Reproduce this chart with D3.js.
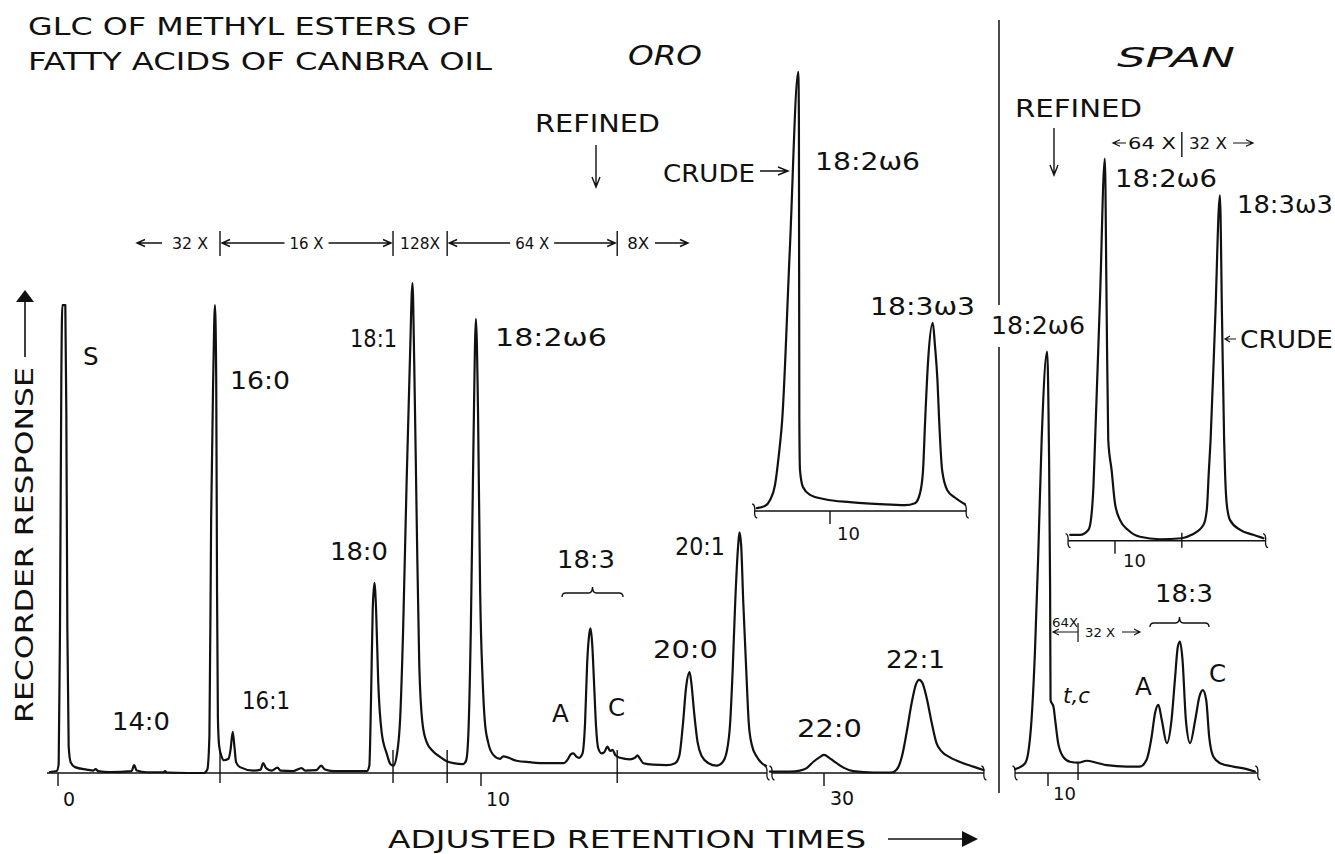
<!DOCTYPE html>
<html>
<head>
<meta charset="utf-8">
<title>GLC of methyl esters of fatty acids of Canbra oil</title>
<script src="https://cdn.jsdelivr.net/npm/d3@7"></script>
<style>
  html, body { margin: 0; padding: 0; background: #fff; }
  svg { display: block; }
  text { font-family: "DejaVu Sans", "Liberation Sans", sans-serif; fill: #111; }
</style>
</head>
<body>
<svg id="chart" width="1335" height="854"></svg>
<script>
// ---------------------------------------------------------------
// Chromatogram traces: [adjusted retention time (min), response (% of full scale)]
// ---------------------------------------------------------------

// ORO refined oil, main run (S through 20:1)
const mainTrace = [
  [-0.19,0.2],[-0.03,0.4],[0.016,1.8],[0.047,29.6],[0.079,80.8],[0.102,95.5],[0.173,95.5],[0.197,73.5],
  [0.221,29.6],[0.252,5.5],[0.299,2.2],[0.402,1.2],[0.678,0.7],[0.835,0.5],[0.89,0.8],[0.946,0.4],
  [1.23,0.2],[1.74,0.4],[1.80,1.6],[1.86,0.5],[2.10,0.15],[2.49,0.15],[2.53,0.4],[2.57,0.1],
  [3.04,0],[3.45,0],[3.53,0.7],[3.58,7.7],[3.62,51.6],[3.67,80.8],[3.71,95.5],[3.74,80.8],
  [3.76,36.9],[3.78,11.3],[3.81,5.5],[3.87,3.3],[3.92,2.6],[4.03,2.9],[4.08,4.8],[4.13,8.4],
  [4.17,5.5],[4.21,2.2],[4.30,1.2],[4.62,0.5],[4.79,0.7],[4.85,2.0],[4.92,1.0],[5.05,0.5],
  [5.19,1.1],[5.26,0.5],[5.56,0.4],[5.76,1.0],[5.84,0.5],[6.11,0.6],[6.22,1.5],[6.31,0.7],
  [6.51,0.4],[7.30,0.4],[7.36,1.5],[7.40,15.0],[7.44,33.3],[7.48,38.8],[7.52,33.3],[7.57,18.7],
  [7.65,8.4],[7.77,4.0],[7.86,1.8],[7.93,1.5],[8.01,3.7],[8.09,11.3],[8.16,29.6],[8.24,58.9],
  [8.32,84.5],[8.38,100],[8.42,84.5],[8.48,51.6],[8.54,22.3],[8.62,9.9],[8.72,6.2],[8.87,4.4],
  [9.03,3.3],[9.19,2.4],[9.35,2.0],[9.58,1.8],[9.65,2.6],[9.70,7.7],[9.76,29.6],[9.82,66.2],
  [9.88,92.7],[9.93,73.5],[9.98,36.9],[10.04,18.7],[10.09,10.6],[10.17,6.2],[10.29,3.7],[10.45,2.9],
  [10.53,3.4],[10.84,2.5],[11.16,2.2],[11.55,2.0],[11.95,2.0],[12.06,2.9],[12.12,3.8],[12.18,4.0],
  [12.26,3.3],[12.32,3.1],[12.40,4.0],[12.46,10.2],[12.51,22.5],[12.56,28.4],[12.59,29.5],[12.63,26.2],
  [12.67,18.9],[12.72,9.5],[12.77,5.1],[12.85,4.0],[12.91,4.2],[12.99,5.4],[13.05,4.5],[13.11,4.7],
  [13.18,3.6],[13.29,3.1],[13.52,2.8],[13.64,3.1],[13.70,3.6],[13.76,2.9],[13.84,2.0],[14.07,1.7],
  [14.39,1.6],[14.59,2.0],[14.69,3.6],[14.77,9.6],[14.85,17.6],[14.93,20.6],[14.97,18.6],[15.04,12.2],
  [15.12,6.3],[15.22,3.4],[15.38,2.0],[15.57,1.5],[15.71,2.2],[15.81,4.4],[15.89,10.2],[15.95,21.1],
  [16.01,34.9],[16.08,46.5],[16.11,49.1],[16.15,46.5],[16.20,34.9],[16.27,21.1],[16.33,10.2],[16.40,5.8],
  [16.52,3.3],[16.64,2.0],[16.74,1.5]
];

// ORO refined oil, late eluting part (22:0, 22:1)
const lateTrace = [
  [28.72,0.3],[29.20,0.3],[29.43,0.5],[29.59,1.0],[29.75,2.3],[29.91,3.3],[30.00,3.7],[30.14,3.0],
  [30.30,2.0],[30.46,1.1],[30.69,0.4],[31.17,0.1],[31.60,0.1],[31.72,0.7],[31.84,3.3],[31.95,8.1],
  [32.07,14.2],[32.17,18.0],[32.25,19.0],[32.33,18.3],[32.43,15.2],[32.55,10.1],[32.66,6.1],[32.78,4.4],
  [32.98,3.2],[33.29,2.0],[33.53,1.3],[33.77,0.6]
];

// ORO crude oil, 18:2w6 and 18:3w3 region
const oroCrudeTrace = [
  [8.27,0.6],[8.46,1.0],[8.58,2.2],[8.70,5.3],[8.79,11.4],[8.87,18.6],[9.05,53.3],[9.25,89.6],
  [9.265,80],[9.275,18.6],[9.29,8.4],[9.36,4.9],[9.53,3.3],[9.88,2.4],[10.47,1.8],[11.18,1.4],
  [11.77,1.2],[12.01,1.6],[12.13,3.7],[12.20,8.4],[12.25,18.6],[12.32,30.8],[12.43,38.4],[12.48,33.9],
  [12.54,26.7],[12.58,18.6],[12.65,8.4],[12.77,4.3],[12.96,2.7],[13.19,1.4]
];

// SPAN refined oil, 18:2w6 and 18:3 isomers
const spanRefinedTrace = [
  [9.22,0.8],[9.34,1.2],[9.46,2.0],[9.53,4.0],[9.61,10.8],[9.69,24.4],[9.77,44.8],[9.85,68.0],
  [9.98,86.0],[10.02,68.0],[10.05,37.3],[10.06,14.9],[10.13,13.5],[10.17,10.8],[10.24,6.1],[10.36,3.3],
  [10.52,2.3],[10.72,2.1],[10.91,2.5],[11.15,2.1],[11.39,1.6],[11.86,1.3],[12.17,1.3],[12.33,2.7],
  [12.45,7.4],[12.53,12.2],[12.61,13.9],[12.69,10.8],[12.81,6.1],[12.92,10.8],[13.00,19.0],[13.07,25.8],
  [13.12,26.8],[13.18,23.1],[13.26,10.8],[13.36,6.1],[13.48,10.8],[13.58,15.6],[13.66,16.9],[13.74,14.9],
  [13.81,7.4],[13.91,3.3],[14.07,2.0],[14.38,1.3],[14.70,0.8],[14.89,0.3]
];

// SPAN crude oil, 18:2w6 and 18:3w3
const spanCrudeTrace = [
  [8.94,1.2],[9.17,1.2],[9.37,2.2],[9.43,4.2],[9.49,11.0],[9.53,20.6],[9.645,49.3],[9.76,78.0],
  [9.80,49.3],[9.84,20.6],[9.92,14.4],[10.00,7.6],[10.12,4.2],[10.31,2.2],[10.59,0.8],[11.06,0.3],
  [11.58,0.5],[11.81,1.2],[12.09,3.2],[12.17,6.3],[12.22,14.4],[12.26,20.6],[12.37,45.5],[12.48,70.5],
  [12.53,45.5],[12.58,20.6],[12.60,14.4],[12.64,7.6],[12.72,4.2],[12.96,2.2],[13.27,1.2],[13.51,0.5]
];

// Axis spans (min) and tick values
const mainAxisSpan = [-0.26, 16.76];
const lateAxisSpan = [28.77, 33.78];
const oroAxisSpan = [8.22, 13.22];
const spanAxisSpan = [9.22, 14.96];
const spanCrudeAxisSpan = [8.89, 13.56];
const mainTicks = [0, 10];
const lateTicks = [30];
const oroTicks = [10];
const spanTicks = [10];
const spanCrudeTicks = [10];

// Recorder attenuation settings and the times where they were switched
const attenuations = ["32 X", "16 X", "128X", "64 X", "8X"];
const attenuationChanges = [3.83, 7.92, 9.20, 13.22];
const spanAttenuations = ["64X", "32 X"];
const spanAttenuationChanges = [10.71];
const spanCrudeAttenuations = ["64 X", "32 X"];
const spanCrudeAttenuationChanges = [11.58];

// ---------------------------------------------------------------
const svg = d3.select("#chart");
const ink = "#111";

// Chart paper: 42.3 px per minute, full scale = 490 px
const xMain = d3.scaleLinear().domain([0, 10]).range([58, 481]);
const xLate = d3.scaleLinear().domain([30, 35]).range([824, 1035.5]);
const yMain = d3.scaleLinear().domain([0, 100]).range([773, 283]);
const xOro = d3.scaleLinear().domain([10, 15]).range([830, 1041.5]);
const yOro = d3.scaleLinear().domain([0, 100]).range([511, 21]);
const xSpan = d3.scaleLinear().domain([10, 15]).range([1048, 1259.5]);
const xSpanC = d3.scaleLinear().domain([10, 15]).range([1115, 1326.5]);
const ySpanC = d3.scaleLinear().domain([0, 100]).range([540.7, 50.7]);

const g = svg.append("g");

function drawTrace(data, xs, ys) {
  const line = d3.line().x(d => xs(d[0])).y(d => ys(d[1])).curve(d3.curveMonotoneX);
  g.append("path").attr("d", line(data))
    .attr("fill", "none").attr("stroke", ink).attr("stroke-width", 2.2)
    .attr("stroke-linejoin", "round").attr("stroke-linecap", "round");
}

function squiggle(x, y) {
  return `M${x - 2.5},${y - 7}C${x + 3.5},${y - 6} ${x - 3.5},${y + 6} ${x + 2.5},${y + 7}`;
}

function drawAxis(span, xs, y0, ticks, changes, opts, endMarks) {
  const ax = g.append("g");
  ax.append("line").attr("x1", xs(span[0])).attr("x2", xs(span[1]))
    .attr("y1", y0).attr("y2", y0).attr("stroke", ink).attr("stroke-width", 1.4);
  if (endMarks[0]) ax.append("path").attr("d", squiggle(xs(span[0]), y0))
    .attr("fill", "none").attr("stroke", ink).attr("stroke-width", 1.3);
  if (endMarks[1]) ax.append("path").attr("d", squiggle(xs(span[1]), y0))
    .attr("fill", "none").attr("stroke", ink).attr("stroke-width", 1.3);
  ax.selectAll("line.minute").data(ticks).join("line").attr("class", "minute")
    .attr("x1", d => xs(d)).attr("x2", d => xs(d)).attr("y1", y0).attr("y2", y0 + 13)
    .attr("stroke", ink).attr("stroke-width", 1.4);
  ax.selectAll("text.minute").data(ticks).join("text").attr("class", "minute")
    .attr("x", d => xs(d) + opts.dx).attr("y", y0 + opts.dy)
    .attr("font-size", opts.size).text(d => d3.format("d")(d));
  ax.selectAll("line.change").data(changes).join("line").attr("class", "change")
    .attr("x1", d => xs(d)).attr("x2", d => xs(d))
    .attr("y1", y0 - opts.up).attr("y2", y0 + opts.down)
    .attr("stroke", ink).attr("stroke-width", 1.4);
}

// ---- traces ----
drawTrace(mainTrace, xMain, yMain);
drawTrace(lateTrace, xLate, yMain);
drawTrace(oroCrudeTrace, xOro, yOro);
drawTrace(spanRefinedTrace, xSpan, yMain);
drawTrace(spanCrudeTrace, xSpanC, ySpanC);

// ---- axes ----
drawAxis(mainAxisSpan, xMain, yMain(0), mainTicks, attenuationChanges,
  {dx: 5, dy: 33, size: 19, up: 23, down: 10}, [false, true]);
drawAxis(lateAxisSpan, xLate, yMain(0), lateTicks, [],
  {dx: 6, dy: 32, size: 19, up: 0, down: 0}, [true, true]);
drawAxis(oroAxisSpan, xOro, yOro(0), oroTicks, [],
  {dx: 7, dy: 29, size: 18, up: 0, down: 0}, [true, true]);
drawAxis(spanAxisSpan, xSpan, yMain(0), spanTicks, spanAttenuationChanges,
  {dx: 5, dy: 27, size: 18, up: 10, down: 7}, [true, true]);
drawAxis(spanCrudeAxisSpan, xSpanC, ySpanC(0), spanCrudeTicks, spanCrudeAttenuationChanges,
  {dx: 8, dy: 26, size: 18, up: 8, down: 7}, [true, true]);

// ---- helpers for annotation ----
function arrowPath(x1, y1, x2, y2, len = 8, half = 3.5) {
  const a = Math.atan2(y2 - y1, x2 - x1);
  const bx = x2 - len * Math.cos(a), by = y2 - len * Math.sin(a);
  const px = -Math.sin(a) * half, py = Math.cos(a) * half;
  return `M${x1},${y1}L${x2},${y2}M${bx + px},${by + py}L${x2},${y2}L${bx - px},${by - py}`;
}
function arrow(x1, y1, x2, y2, len, half, w = 1.4) {
  g.append("path").attr("d", arrowPath(x1, y1, x2, y2, len, half))
    .attr("fill", "none").attr("stroke", ink).attr("stroke-width", w);
}
function label(txt, x, y, opts = {}) {
  const t = g.append("text").attr("x", x).attr("y", y)
    .attr("font-size", opts.size || 24.5).text(txt);
  if (opts.len) t.attr("textLength", opts.len).attr("lengthAdjust", "spacingAndGlyphs");
  if (opts.italic) t.attr("font-style", "italic");
  if (opts.anchor) t.attr("text-anchor", opts.anchor);
  return t;
}
function brace(x0, x1, yTop, depth = 9) {
  const xm = (x0 + x1) / 2, r = 4;
  const yLine = yTop + depth - 4;
  const d = `M${x0},${yTop + depth}Q${x0},${yLine} ${x0 + r},${yLine}L${xm - r},${yLine}` +
            `Q${xm},${yLine} ${xm},${yTop}Q${xm},${yLine} ${xm + r},${yLine}` +
            `L${x1 - r},${yLine}Q${x1},${yLine} ${x1},${yTop + depth}`;
  g.append("path").attr("d", d).attr("fill", "none").attr("stroke", ink).attr("stroke-width", 1.4);
}

// ---- title and panel names ----
label("GLC OF METHYL ESTERS OF", 28, 35, {len: 442});
label("FATTY ACIDS OF CANBRA OIL", 28, 70, {len: 464});
label("ORO", 628, 65, {italic: true, len: 74, size: 26});
label("SPAN", 1117, 67, {italic: true, len: 118, size: 26});

// panel divider, interrupted behind the SPAN 18:2w6 label
g.append("line").attr("x1", 999).attr("x2", 999).attr("y1", 20).attr("y2", 305)
  .attr("stroke", ink).attr("stroke-width", 1.5);
g.append("line").attr("x1", 999).attr("x2", 999).attr("y1", 347).attr("y2", 793)
  .attr("stroke", ink).attr("stroke-width", 1.5);

// ---- axis titles ----
g.append("text").attr("transform", "translate(33,723) rotate(-90)")
  .attr("font-size", 24.5).attr("textLength", 356).attr("lengthAdjust", "spacingAndGlyphs")
  .text("RECORDER  RESPONSE");
g.append("line").attr("x1", 25).attr("x2", 25).attr("y1", 357).attr("y2", 300)
  .attr("stroke", ink).attr("stroke-width", 1.6);
g.append("path").attr("d", "M25,290L34,302L16,302Z").attr("fill", ink);

label("ADJUSTED RETENTION TIMES", 388, 848, {len: 478});
g.append("line").attr("x1", 888).attr("x2", 964).attr("y1", 839).attr("y2", 839)
  .attr("stroke", ink).attr("stroke-width", 1.6);
g.append("path").attr("d", "M978,839L962,831L962,847Z").attr("fill", ink);

// ---- attenuation row over the main run ----
const rowY = 243;
g.selectAll("line.att").data(attenuationChanges).join("line").attr("class", "att")
  .attr("x1", d => xMain(d)).attr("x2", d => xMain(d)).attr("y1", 231).attr("y2", 256)
  .attr("stroke", ink).attr("stroke-width", 1.4);
{
  const c = attenuationChanges.map(xMain);
  const sz = 15;
  arrow(162, rowY, 137, rowY, 8, 3.5);
  label(attenuations[0], 172, rowY + 5.5, {size: sz, len: 36});
  [[c[0], c[1], attenuations[1]], [c[2], c[3], attenuations[3]]].forEach(([a, b, txt]) => {
    const m = (a + b) / 2;
    arrow(m - 22, rowY, a + 2, rowY, 8, 3.5);
    arrow(m + 22, rowY, b - 2, rowY, 8, 3.5);
    label(txt, m, rowY + 5.5, {size: sz, len: 34, anchor: "middle"});
  });
  label(attenuations[2], (c[1] + c[2]) / 2, rowY + 5.5, {size: sz, len: 40, anchor: "middle"});
  label(attenuations[4], c[3] + 10, rowY + 5.5, {size: sz, len: 22});
  arrow(655, rowY, 688, rowY, 8, 3.5);
}

// ---- peak labels, main run ----
label("S", 83, 365);
label("14:0", 112, 730, {len: 58});
label("16:0", 230, 389, {len: 60});
label("16:1", 242, 709, {len: 48});
label("18:0", 330, 560, {len: 58});
label("18:1", 350, 347, {len: 47});
label("18:2ω6", 495, 346, {len: 112});
label("18:3", 557, 568, {len: 58});
brace(562, 623, 587, 10);
label("A", 552, 722);
label("C", 608, 716);
label("20:0", 653, 658, {len: 65});
label("20:1", 675, 555, {len: 50});
label("22:0", 797, 737, {len: 65});
label("22:1", 886, 668, {len: 59});

// ---- ORO crude / refined notes ----
label("REFINED", 535, 132, {len: 125});
arrow(596, 145, 596, 187, 10, 4);
label("CRUDE", 663, 182, {len: 92});
arrow(760, 171, 788, 171, 10, 4);
label("18:2ω6", 815, 170, {len: 105});
label("18:3ω3", 870, 315, {len: 105});

// ---- SPAN panel notes ----
label("REFINED", 1015, 117, {len: 127});
arrow(1054, 128, 1054, 175, 10, 4);
{
  const cx = xSpanC(spanCrudeAttenuationChanges[0]);
  g.append("line").attr("x1", cx).attr("x2", cx).attr("y1", 132).attr("y2", 157)
    .attr("stroke", ink).attr("stroke-width", 1.4);
  arrow(1126, 143, 1113, 143, 7, 3.2, 1.2);
  label(spanCrudeAttenuations[0], 1128, 149, {size: 15, len: 48});
  label(spanCrudeAttenuations[1], 1189, 149, {size: 15, len: 38});
  arrow(1233, 143, 1253, 143, 7, 3.2, 1.2);
}
label("18:2ω6", 1115, 187, {len: 102});
label("18:3ω3", 1237, 213, {len: 96});
label("CRUDE", 1240, 348, {len: 93});
arrow(1236, 339, 1225, 339, 5, 3, 1.2);
label("18:2ω6", 991, 334, {len: 94});

{
  const cx = xSpan(spanAttenuationChanges[0]);
  g.append("line").attr("x1", cx).attr("x2", cx).attr("y1", 623).attr("y2", 642)
    .attr("stroke", ink).attr("stroke-width", 1.2);
  label(spanAttenuations[0], 1052, 627, {size: 12, len: 26});
  arrow(cx, 632, 1053, 632, 6, 3, 1.1);
  label(spanAttenuations[1], 1085, 637, {size: 12, len: 30});
  arrow(1122, 632, 1140, 632, 6, 3, 1.1);
}
label("18:3", 1155, 602, {len: 58});
brace(1150, 1209, 617, 10);
label("A", 1135, 695);
label("C", 1209, 682);
label("t,c", 1063, 703, {italic: true, size: 22, len: 27});
</script>
</body>
</html>
